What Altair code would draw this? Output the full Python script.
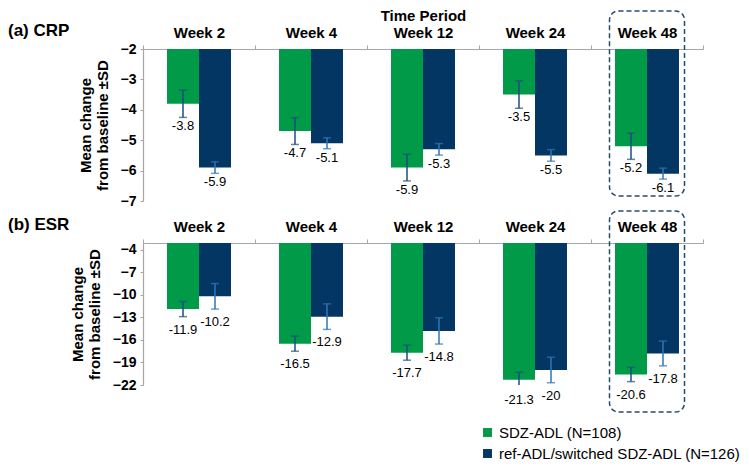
import altair as alt
import pandas as pd

weeks = ["Week 2", "Week 4", "Week 12", "Week 24", "Week 48"]
groups = ["SDZ-ADL (N=108)", "ref-ADL/switched SDZ-ADL (N=126)"]

crp_sdz = [-3.8, -4.7, -5.9, -3.5, -5.2]
crp_ref = [-5.9, -5.1, -5.3, -5.5, -6.1]
crp_sdz_sd = [0.45, 0.44, 0.44, 0.45, 0.43]
crp_ref_sd = [0.19, 0.18, 0.19, 0.19, 0.18]

esr_sdz = [-11.9, -16.5, -17.7, -21.3, -20.6]
esr_ref = [-10.2, -12.9, -14.8, -20.0, -17.8]
esr_sdz_sd = [1.0, 1.0, 1.0, 1.0, 0.95]
esr_ref_sd = [1.7, 1.7, 1.75, 1.7, 1.65]

crp_ticks = [-2, -3, -4, -5, -6, -7]
esr_ticks = [-4, -7, -10, -13, -16, -19, -22]
crp_domain = [-7, -2]
esr_domain = [-22, -3.1]

GREEN = "#009a49"
NAVY = "#043663"
ERR_GREEN = "#1f4e79"
ERR_NAVY = "#2e75b6"
AXIS_GRAY = "#a6a6a6"
BOX = "#274b6e"
FONT = "Liberation Sans"

W = 560


def make_panel(title, v1, s1, v2, s2, domain, ticks, H, xtitle, title_x,
               box_top, box_bottom, label_dy, clip_err):
    rows = []
    for g, vals, sds in ((groups[0], v1, s1), (groups[1], v2, s2)):
        for w, v, s in zip(weeks, vals, sds):
            rows.append(dict(week=w, group=g, value=v, base=domain[1],
                             lo=v - s, hi=v + s, label=f"{v:g}"))
    df = pd.DataFrame(rows)

    xaxis = alt.Axis(orient="top", labelFontSize=15, labelFontWeight="bold",
                     labelAngle=0, labelPadding=5, tickBand="extent", tickSize=4,
                     tickColor=AXIS_GRAY, domainColor=AXIS_GRAY, domainWidth=1.2,
                     titleFontSize=15, titleFontWeight="bold", titlePadding=2,
                     labelColor="black", titleColor="black", labelOverlap=False)
    xscale = alt.Scale(domain=weeks, paddingInner=0, paddingOuter=0)
    yaxis = alt.Axis(values=ticks, grid=False, labelFontSize=14,
                     labelFontWeight="bold", labelPadding=4, tickSize=3,
                     tickColor=AXIS_GRAY, domainColor=AXIS_GRAY, domainWidth=1.2,
                     titleFontSize=15, titleFontWeight="bold", titlePadding=10,
                     labelColor="black", titleColor="black", labelOverlap=False)
    yscale = alt.Scale(domain=domain, nice=False, zero=False)
    ytitle = ["Mean change", "from baseline \u00b1SD"]

    X = alt.X("week:N", sort=weeks, scale=xscale, axis=xaxis, title=xtitle)
    XO = alt.XOffset("group:N", sort=groups,
                     scale=alt.Scale(domain=groups, paddingInner=0, paddingOuter=0.75))

    def Y(field):
        return alt.Y(f"{field}:Q", scale=yscale, axis=yaxis, title=ytitle)

    base = alt.Chart(df)
    bars = base.mark_bar().encode(
        x=X, xOffset=XO, y=Y("value"), y2="base:Q",
        color=alt.Color("group:N", sort=groups,
                        scale=alt.Scale(domain=groups, range=[GREEN, NAVY]),
                        legend=alt.Legend(title=None, orient="none", legendX=337,
                                          legendY=376, labelFontSize=15,
                                          labelFont=FONT, labelLimit=400,
                                          symbolType="square", symbolSize=80,
                                          symbolStrokeWidth=0, rowPadding=5,
                                          labelOffset=4, labelColor="black")),
    )
    layers = [bars]
    for g, col in ((groups[0], ERR_GREEN), (groups[1], ERR_NAVY)):
        sub = base.transform_filter(alt.datum.group == g)
        layers.append(sub.mark_rule(color=col, strokeWidth=1.5, clip=clip_err).encode(
            x=X, xOffset=XO, y=Y("lo"), y2="hi:Q"))
        for fld in ("lo", "hi"):
            layers.append(sub.mark_tick(color=col, thickness=1.5, size=8, clip=clip_err).encode(
                x=X, xOffset=XO, y=Y(fld)))
    labels = base.mark_text(fontSize=13, baseline="top", dy=label_dy, color="black",
                            font=FONT).encode(
        x=X, xOffset=XO, y=Y("lo"), text="label:N")
    layers.append(labels)

    box = alt.Chart(pd.DataFrame({"week": [weeks[-1]]})).mark_bar(
        filled=False, stroke=BOX, strokeDash=[5, 3], strokeWidth=1.5,
        cornerRadius=9, width=75).encode(
        x=X, y=alt.value(box_top), y2=alt.value(box_bottom))
    layers.append(box)

    ttl = alt.Chart(pd.DataFrame({"t": [title]})).mark_text(
        align="left", baseline="middle", fontSize=17, fontWeight="bold",
        color="black", font=FONT, x=title_x, y=-18).encode(text="t:N")
    layers.append(ttl)

    return alt.layer(*layers).properties(width=W, height=H)


H1 = 152
H2 = 142
top = make_panel("(a) CRP", crp_sdz, crp_sdz_sd, crp_ref, crp_ref_sd,
                 crp_domain, crp_ticks, H1, "Time Period", -135, -38, H1 - 5, 3, False)
bottom = make_panel("(b) ESR", esr_sdz, esr_sdz_sd, esr_ref, esr_ref_sd,
                    esr_domain, esr_ticks, H2, None, -135, -32, H2 + 27, 7, True)

chart = alt.vconcat(top, bottom, spacing=2).properties(padding=0).configure(
    font=FONT).configure_view(stroke=None)

chart.save("out.html", embed_options={"renderer": "svg", "actions": False})
